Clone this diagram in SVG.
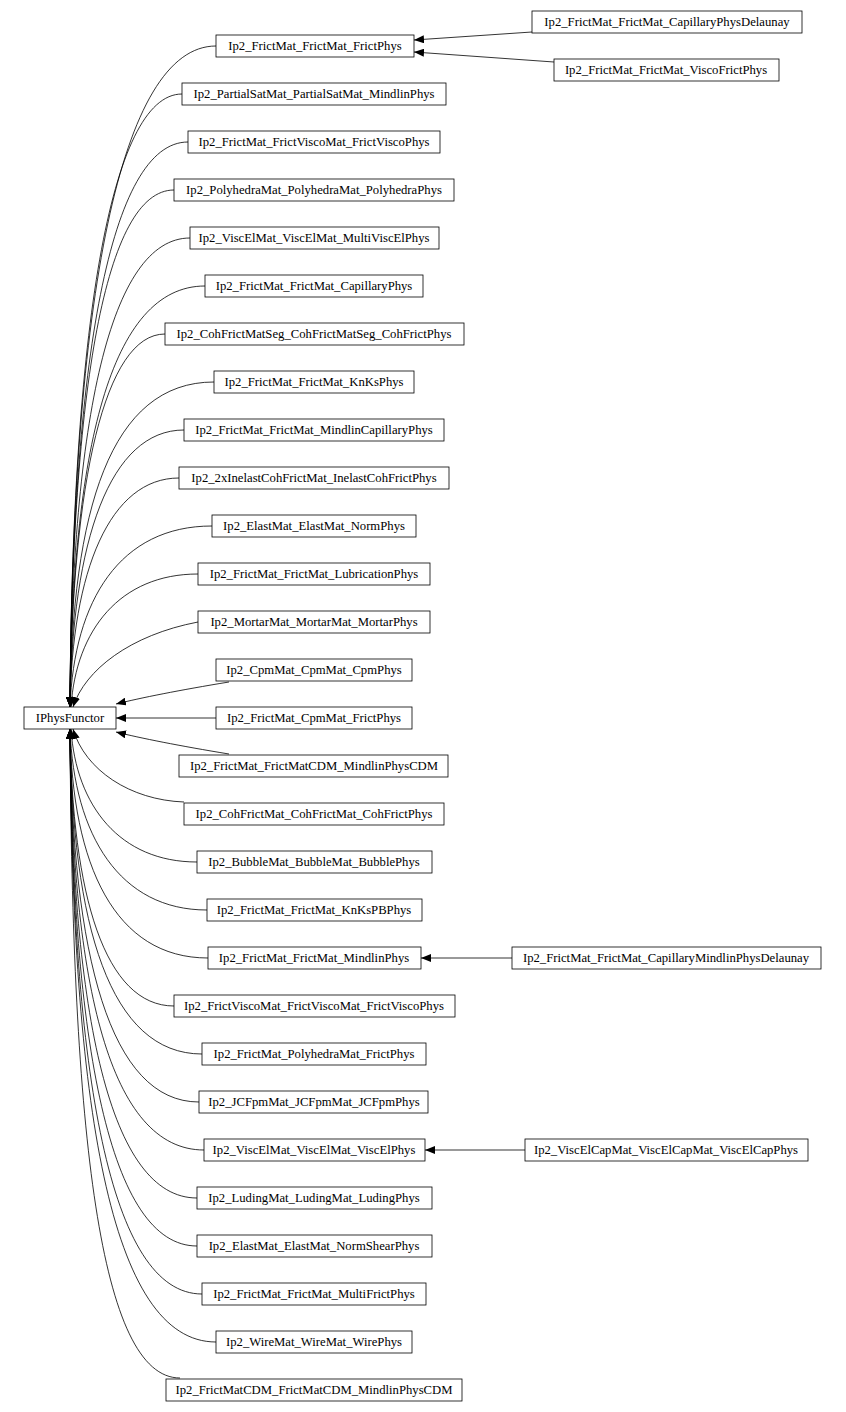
<svg xmlns="http://www.w3.org/2000/svg" width="846" height="1412" viewBox="0 0 846 1412">
<style>
rect{fill:#fff;stroke:#000;stroke-width:0.8}
text{font-family:"Liberation Serif",serif;font-size:12.7px;text-anchor:middle;fill:#000}
#edges path{fill:none;stroke:#000;stroke-width:0.8;marker-end:url(#a)}
</style>
<defs><marker id="a" viewBox="0 0 10 8" refX="10" refY="4" markerWidth="10" markerHeight="8" markerUnits="userSpaceOnUse" orient="auto"><path d="M0,0L10,4L0,8z" fill="#000"/></marker></defs>
<rect width="846" height="1412" fill="#fff" style="stroke:none"/>
<g id="edges">
<path d="M216,46C120,46 72,300 70,707"/>
<path d="M182,94C110,94 72,330 70,707"/>
<path d="M188,142C110,142 72,360 70,707"/>
<path d="M174,190C105,190 72,390 70,707"/>
<path d="M190,238C110,238 72,420 70,707"/>
<path d="M205,286C110,286 72,450 70,707"/>
<path d="M165,334C105,334 72,480 70,707"/>
<path d="M214,382C110,382 72,510 70,707"/>
<path d="M184,430C110,430 72,540 70,707"/>
<path d="M179,478C110,478 72,570 70,707"/>
<path d="M212,526C120,526 74,600 70,707"/>
<path d="M198,574C120,574 76,630 71,707"/>
<path d="M198,622C130,635 85,670 73,707"/>
<path d="M229,682C180,690 140,698 116,704"/>
<path d="M216,718L116,718"/>
<path d="M229,754C180,746 140,738 116,732"/>
<path d="M184,802C130,800 85,770 73,729"/>
<path d="M197,862C120,862 76,806 71,729"/>
<path d="M207,910C120,910 74,836 70,729"/>
<path d="M208,958C115,958 72,866 70,729"/>
<path d="M174,1006C105,1006 72,896 70,729"/>
<path d="M202,1054C110,1054 72,926 70,729"/>
<path d="M199,1102C110,1102 72,956 70,729"/>
<path d="M204,1150C110,1150 72,986 70,729"/>
<path d="M197,1198C110,1198 72,1016 70,729"/>
<path d="M197,1246C110,1246 72,1046 70,729"/>
<path d="M202,1294C110,1294 72,1076 70,729"/>
<path d="M216,1342C110,1342 72,1106 70,729"/>
<path d="M180,1378C100,1378 72,1136 70,729"/>
<path d="M532,32L414,40"/>
<path d="M554,62L414,52"/>
<path d="M512,958L421,958"/>
<path d="M525,1150L425,1150"/>
</g>
<g id="IPhysFunctor"><rect x="24" y="707" width="92" height="22"/><text x="70" y="722">IPhysFunctor</text></g>
<g id="n1"><rect x="216" y="35" width="198" height="22"/><text x="315" y="50">Ip2_FrictMat_FrictMat_FrictPhys</text></g>
<g id="n2"><rect x="182" y="83" width="264" height="22"/><text x="314" y="98">Ip2_PartialSatMat_PartialSatMat_MindlinPhys</text></g>
<g id="n3"><rect x="188" y="131" width="252" height="22"/><text x="314" y="146">Ip2_FrictMat_FrictViscoMat_FrictViscoPhys</text></g>
<g id="n4"><rect x="174" y="179" width="280" height="22"/><text x="314" y="194">Ip2_PolyhedraMat_PolyhedraMat_PolyhedraPhys</text></g>
<g id="n5"><rect x="190" y="227" width="249" height="22"/><text x="314" y="242">Ip2_ViscElMat_ViscElMat_MultiViscElPhys</text></g>
<g id="n6"><rect x="205" y="275" width="218" height="22"/><text x="314" y="290">Ip2_FrictMat_FrictMat_CapillaryPhys</text></g>
<g id="n7"><rect x="165" y="323" width="299" height="22"/><text x="314" y="338">Ip2_CohFrictMatSeg_CohFrictMatSeg_CohFrictPhys</text></g>
<g id="n8"><rect x="214" y="371" width="200" height="22"/><text x="314" y="386">Ip2_FrictMat_FrictMat_KnKsPhys</text></g>
<g id="n9"><rect x="184" y="419" width="260" height="22"/><text x="314" y="434">Ip2_FrictMat_FrictMat_MindlinCapillaryPhys</text></g>
<g id="n10"><rect x="179" y="467" width="270" height="22"/><text x="314" y="482">Ip2_2xInelastCohFrictMat_InelastCohFrictPhys</text></g>
<g id="n11"><rect x="212" y="515" width="204" height="22"/><text x="314" y="530">Ip2_ElastMat_ElastMat_NormPhys</text></g>
<g id="n12"><rect x="198" y="563" width="232" height="22"/><text x="314" y="578">Ip2_FrictMat_FrictMat_LubricationPhys</text></g>
<g id="n13"><rect x="198" y="611" width="232" height="22"/><text x="314" y="626">Ip2_MortarMat_MortarMat_MortarPhys</text></g>
<g id="n14"><rect x="216" y="659" width="196" height="22"/><text x="314" y="674">Ip2_CpmMat_CpmMat_CpmPhys</text></g>
<g id="n15"><rect x="216" y="707" width="196" height="22"/><text x="314" y="722">Ip2_FrictMat_CpmMat_FrictPhys</text></g>
<g id="n16"><rect x="179" y="755" width="269" height="22"/><text x="314" y="770">Ip2_FrictMat_FrictMatCDM_MindlinPhysCDM</text></g>
<g id="n17"><rect x="184" y="803" width="260" height="22"/><text x="314" y="818">Ip2_CohFrictMat_CohFrictMat_CohFrictPhys</text></g>
<g id="n18"><rect x="197" y="851" width="235" height="22"/><text x="314" y="866">Ip2_BubbleMat_BubbleMat_BubblePhys</text></g>
<g id="n19"><rect x="207" y="899" width="215" height="22"/><text x="314" y="914">Ip2_FrictMat_FrictMat_KnKsPBPhys</text></g>
<g id="n20"><rect x="208" y="947" width="213" height="22"/><text x="314" y="962">Ip2_FrictMat_FrictMat_MindlinPhys</text></g>
<g id="n21"><rect x="174" y="995" width="281" height="22"/><text x="314" y="1010">Ip2_FrictViscoMat_FrictViscoMat_FrictViscoPhys</text></g>
<g id="n22"><rect x="202" y="1043" width="224" height="22"/><text x="314" y="1058">Ip2_FrictMat_PolyhedraMat_FrictPhys</text></g>
<g id="n23"><rect x="199" y="1091" width="229" height="22"/><text x="314" y="1106">Ip2_JCFpmMat_JCFpmMat_JCFpmPhys</text></g>
<g id="n24"><rect x="204" y="1139" width="221" height="22"/><text x="314" y="1154">Ip2_ViscElMat_ViscElMat_ViscElPhys</text></g>
<g id="n25"><rect x="197" y="1187" width="235" height="22"/><text x="314" y="1202">Ip2_LudingMat_LudingMat_LudingPhys</text></g>
<g id="n26"><rect x="197" y="1235" width="235" height="22"/><text x="314" y="1250">Ip2_ElastMat_ElastMat_NormShearPhys</text></g>
<g id="n27"><rect x="202" y="1283" width="224" height="22"/><text x="314" y="1298">Ip2_FrictMat_FrictMat_MultiFrictPhys</text></g>
<g id="n28"><rect x="216" y="1331" width="196" height="22"/><text x="314" y="1346">Ip2_WireMat_WireMat_WirePhys</text></g>
<g id="n29"><rect x="166" y="1379" width="296" height="22"/><text x="314" y="1394">Ip2_FrictMatCDM_FrictMatCDM_MindlinPhysCDM</text></g>
<g id="r1"><rect x="532" y="11" width="270" height="22"/><text x="667" y="26">Ip2_FrictMat_FrictMat_CapillaryPhysDelaunay</text></g>
<g id="r2"><rect x="554" y="59" width="225" height="22"/><text x="666" y="74">Ip2_FrictMat_FrictMat_ViscoFrictPhys</text></g>
<g id="r3"><rect x="512" y="947" width="309" height="22"/><text x="666" y="962">Ip2_FrictMat_FrictMat_CapillaryMindlinPhysDelaunay</text></g>
<g id="r4"><rect x="525" y="1139" width="283" height="22"/><text x="666" y="1154">Ip2_ViscElCapMat_ViscElCapMat_ViscElCapPhys</text></g>
</svg>
